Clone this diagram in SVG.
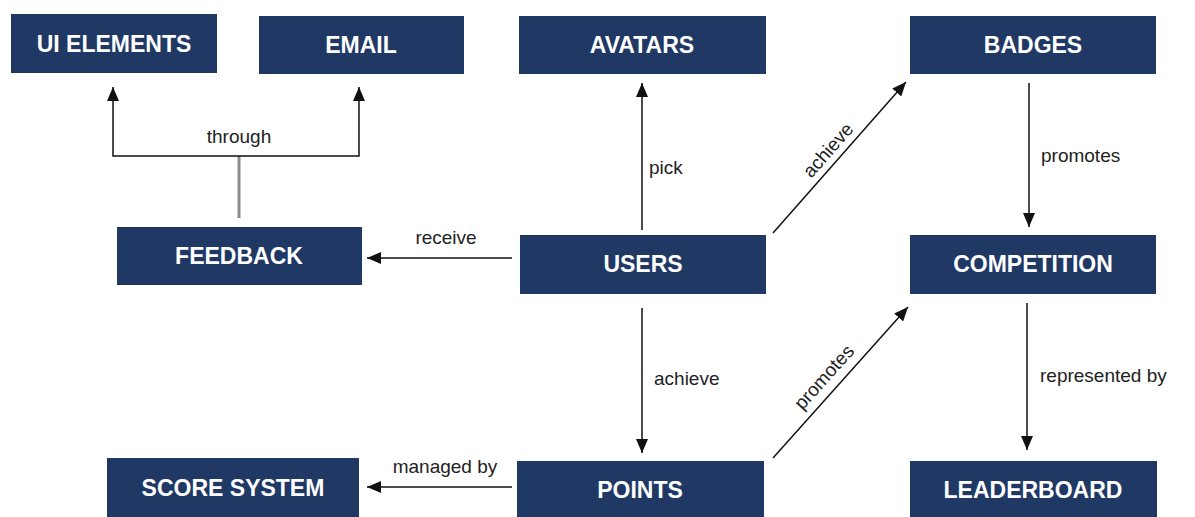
<svg xmlns="http://www.w3.org/2000/svg" width="1195" height="517" viewBox="0 0 1195 517">
<style>
.box{fill:#203864;}
.nt{font-family:"Liberation Sans",Arial,sans-serif;font-weight:bold;font-size:23px;fill:#ffffff;text-anchor:middle;}
.lt{font-family:"Liberation Sans",Arial,sans-serif;font-size:19px;fill:#222222;}
.c{fill:none;stroke:#111111;stroke-width:1.5;}
</style>
<defs>
<marker id="ah" markerUnits="userSpaceOnUse" markerWidth="16" markerHeight="12" refX="14" refY="6" orient="auto">
<path d="M0,0 L14,6 L0,12 Z" fill="#111111"/>
</marker>
</defs>
<rect width="1195" height="517" fill="#ffffff"/>
<g id="connectors">
<line x1="239" y1="218" x2="239" y2="156" stroke="#8a8a8a" stroke-width="3"/>
<path class="c" d="M239,156 H113 V87" marker-end="url(#ah)"/>
<path class="c" d="M239,156 H359 V87" marker-end="url(#ah)"/>
<line class="c" x1="642" y1="230" x2="642" y2="83" marker-end="url(#ah)"/>
<line class="c" x1="773" y1="233" x2="906" y2="82" marker-end="url(#ah)"/>
<line class="c" x1="1029" y1="83" x2="1029" y2="227" marker-end="url(#ah)"/>
<line class="c" x1="512" y1="258" x2="367" y2="258" marker-end="url(#ah)"/>
<line class="c" x1="642" y1="308" x2="642" y2="453" marker-end="url(#ah)"/>
<line class="c" x1="773" y1="458" x2="908" y2="307" marker-end="url(#ah)"/>
<line class="c" x1="1027" y1="303" x2="1027" y2="450" marker-end="url(#ah)"/>
<line class="c" x1="512" y1="487" x2="367" y2="487" marker-end="url(#ah)"/>
<text class="lt" x="239" y="143" text-anchor="middle">through</text>
<text class="lt" x="649" y="174">pick</text>
<text class="lt" x="828" y="150" text-anchor="middle" dominant-baseline="central" transform="rotate(-48.6 828 150)">achieve</text>
<text class="lt" x="1041" y="162">promotes</text>
<text class="lt" x="446" y="244" text-anchor="middle">receive</text>
<text class="lt" x="654" y="385">achieve</text>
<text class="lt" x="824" y="377" text-anchor="middle" dominant-baseline="central" transform="rotate(-48.2 824 377)">promotes</text>
<text class="lt" x="1040" y="382">represented by</text>
<text class="lt" x="445" y="473" text-anchor="middle">managed by</text>
</g>
<g id="ui-elements"><rect class="box" x="11" y="14" width="206" height="59"/><text class="nt" x="114" y="52">UI ELEMENTS</text></g>
<g id="email"><rect class="box" x="259" y="16" width="205" height="58"/><text class="nt" x="361" y="53">EMAIL</text></g>
<g id="avatars"><rect class="box" x="519" y="16" width="247" height="58"/><text class="nt" x="642" y="53">AVATARS</text></g>
<g id="badges"><rect class="box" x="910" y="16" width="246" height="58"/><text class="nt" x="1033" y="53">BADGES</text></g>
<g id="feedback"><rect class="box" x="117" y="227" width="245" height="58"/><text class="nt" x="239" y="264">FEEDBACK</text></g>
<g id="users"><rect class="box" x="520" y="235" width="246" height="59"/><text class="nt" x="643" y="272">USERS</text></g>
<g id="competition"><rect class="box" x="910" y="235" width="246" height="59"/><text class="nt" x="1033" y="272">COMPETITION</text></g>
<g id="score-system"><rect class="box" x="107" y="458" width="252" height="62"/><text class="nt" x="233" y="496">SCORE SYSTEM</text></g>
<g id="points"><rect class="box" x="517" y="461" width="247" height="59"/><text class="nt" x="640" y="498">POINTS</text></g>
<g id="leaderboard"><rect class="box" x="910" y="461" width="247" height="59"/><text class="nt" x="1033" y="498">LEADERBOARD</text></g>
</svg>
